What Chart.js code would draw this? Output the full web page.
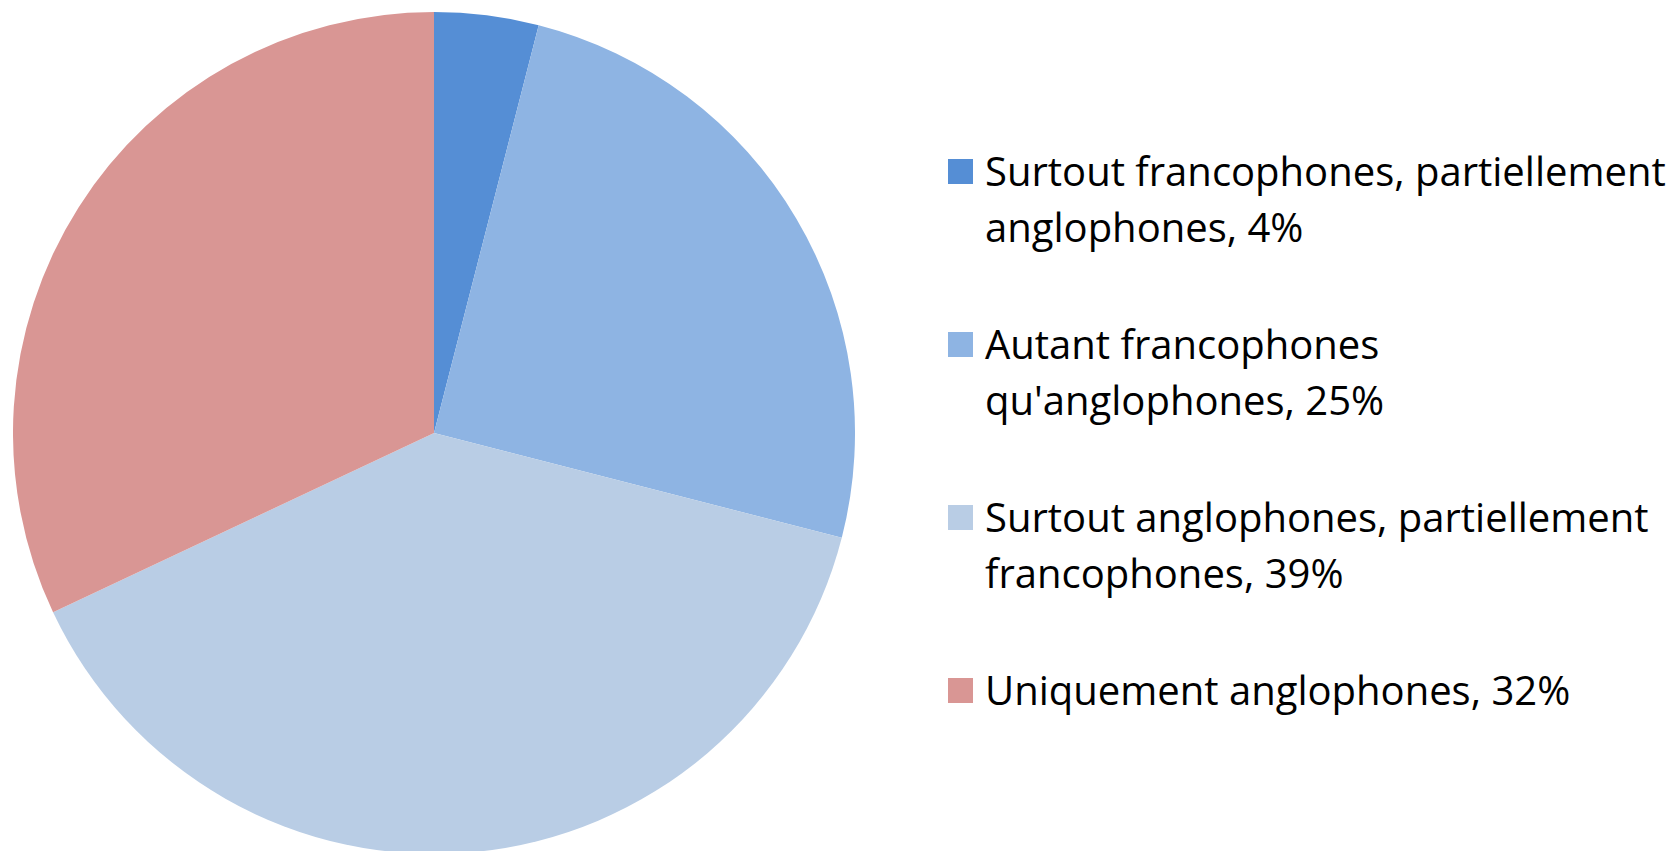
<!DOCTYPE html>
<html>
<head>
<meta charset="utf-8">
<script src="https://cdn.jsdelivr.net/npm/chart.js@4.4.0/dist/chart.umd.min.js"></script>
<style>
  html, body { margin: 0; padding: 0; background: #fff; overflow: hidden; }
  body { width: 1676px; height: 851px; position: relative; font-family: 'Open Sans', sans-serif; }
  .pie__wrap { position: absolute; left: 13px; top: 12px; width: 842px; height: 842px; }
  .legend { position: absolute; left: 948px; top: 143px; width: 720px; }
  .legend__item { display: flex; align-items: flex-start; margin-bottom: 61px; }
  .legend__box { width: 25px; height: 25px; flex: none; margin-top: 16px; margin-right: 12px; }
  .legend__text { line-height: 56px; color: #000; white-space: nowrap; }
</style>
</head>
<body>
<div class="pie__wrap"><canvas id="myPie"></canvas></div>
<div class="legend" id="legend"></div>
<script>
const categories = [
  ['Surtout francophones, partiellement', 'anglophones'],
  ['Autant francophones', "qu'anglophones"],
  ['Surtout anglophones, partiellement', 'francophones'],
  ['Uniquement anglophones'],
];
const values = [4, 25, 39, 32];
const colors = ['#558ED5', '#8EB4E3', '#B9CDE5', '#D99694'];

const legend = () => {
  const box = document.querySelector('#legend');

  // fit the font so the longest line is about as wide as in the picture
  const ctx = document.createElement('canvas').getContext('2d');
  ctx.font = '40px "Open Sans"';
  const w = ctx.measureText(categories[0][0]).width;
  const fontSize = Math.min(40, 40 * 683 / w);

  categories.forEach((lines, i) => {
    const last = lines.length - 1;
    const text = lines.map((l, j) => (j === last ? `${l}, ${values[i]}%` : l)).join('<br>');
    const item = document.createElement('div');
    item.className = 'legend__item';
    item.innerHTML = `<span class="legend__box" style="background:${colors[i]}"></span>` +
      `<span class="legend__text" style="font-size:${fontSize}px">${text}</span>`;
    box.appendChild(item);
  });
};

const chart = () => {
  const ctx = document.getElementById('myPie').getContext('2d');
  new Chart(ctx, {
    type: 'pie',
    data: {
      labels: categories.map((l) => l.join(' ')),
      datasets: [{
        data: values,
        backgroundColor: colors,
        borderWidth: 0,
      }],
    },
    options: {
      responsive: true,
      maintainAspectRatio: true,
      aspectRatio: 1,
      animation: false,
      layout: { padding: 0 },
      plugins: {
        legend: { display: false },
        tooltip: { enabled: false },
      },
    },
  });
};

window.addEventListener('load', () => {
  legend();
  chart();
});
</script>
</body>
</html>
